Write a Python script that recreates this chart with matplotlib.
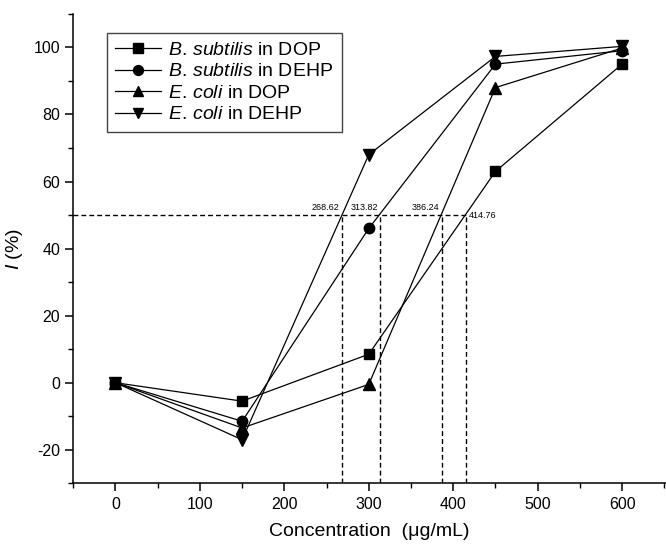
import matplotlib
matplotlib.use("Agg")
import matplotlib.pyplot as plt
from matplotlib.ticker import MultipleLocator

plt.rcParams['font.family'] = ['Liberation Sans', 'DejaVu Sans']
plt.rcParams['mathtext.fontset'] = 'custom'
plt.rcParams['mathtext.rm'] = 'Liberation Sans'
plt.rcParams['mathtext.it'] = 'Liberation Sans:italic'
plt.rcParams['axes.unicode_minus'] = False

# concentration (ug/mL) and inhibition I (%)
conc = [0, 150, 300, 450, 600]
bs_dop = [0, -5.5, 8.5, 63, 95]
bs_dehp = [0, -11.5, 46, 95, 99]
ec_dop = [0, -13.5, -0.5, 88, 99.8]
ec_dehp = [0, -17, 68, 97.3, 100.3]

series = [
    (bs_dop, 's', r'$\mathit{B.\,subtilis}$ in DOP'),
    (bs_dehp, 'o', r'$\mathit{B.\,subtilis}$ in DEHP'),
    (ec_dop, '^', r'$\mathit{E.\,coli}$ in DOP'),
    (ec_dehp, 'v', r'$\mathit{E.\,coli}$ in DEHP'),
]
msizes = {'s': 7, 'o': 7.5, '^': 8, 'v': 8}

# 50 % inhibition concentrations
ic50 = [268.62, 313.82, 386.24, 414.76]
ic50_labels = ['268.62', '313.82', '386.24', '414.76']

fig = plt.figure(figsize=(6.66, 5.53), dpi=100)
ax = fig.add_axes([0.110, 0.126, 0.890, 0.849])

for vals, mk, lab in series:
    ax.plot(conc, vals, color='black', lw=0.9, marker=mk, ms=msizes[mk],
            mfc='black', mec='black', label=lab)

# dashed guide lines
dash = dict(color='black', lw=1.0, ls=(0, (3.5, 2.2)))
ax.plot([-50, max(ic50)], [50, 50], **dash)
for v in ic50:
    ax.plot([v, v], [-30, 50], **dash)

for v, t in zip(ic50, ic50_labels):
    if t == '414.76':
        ax.text(v + 4, 50, t, fontsize=6.5, ha='left', va='center')
    else:
        ax.text(v - 3, 50.8, t, fontsize=6.5, ha='right', va='bottom')

ax.set_xlim(-50, 652)
ax.set_ylim(-30, 110)
ax.xaxis.set_minor_locator(MultipleLocator(50))
ax.yaxis.set_minor_locator(MultipleLocator(10))
ax.set_yticks([-20, 0, 20, 40, 60, 80, 100])
ax.set_xticks([0, 100, 200, 300, 400, 500, 600])

ax.spines['top'].set_visible(False)
ax.spines['right'].set_visible(False)
ax.spines['left'].set_linewidth(1.1)
ax.spines['bottom'].set_linewidth(1.1)
ax.tick_params(which='major', direction='out', length=6, width=1.1, labelsize=11.5)
ax.tick_params(which='minor', direction='out', length=3.5, width=1.0)

ax.set_xlabel('Concentration  (μg/mL)', fontsize=14, labelpad=8)
ax.set_ylabel(r'$\mathit{I}$ (%)', fontsize=14, labelpad=6)

leg = ax.legend(loc='upper left', bbox_to_anchor=(0.0564, 0.960), borderaxespad=0,
                fontsize=14, frameon=True, fancybox=False, edgecolor='#444444',
                framealpha=1, handlelength=2.35, handletextpad=0.35,
                labelspacing=0.2, borderpad=0.45, markerscale=0.95)
leg.get_frame().set_linewidth(1.0)

fig.savefig('out.png', dpi=100, facecolor='white')
